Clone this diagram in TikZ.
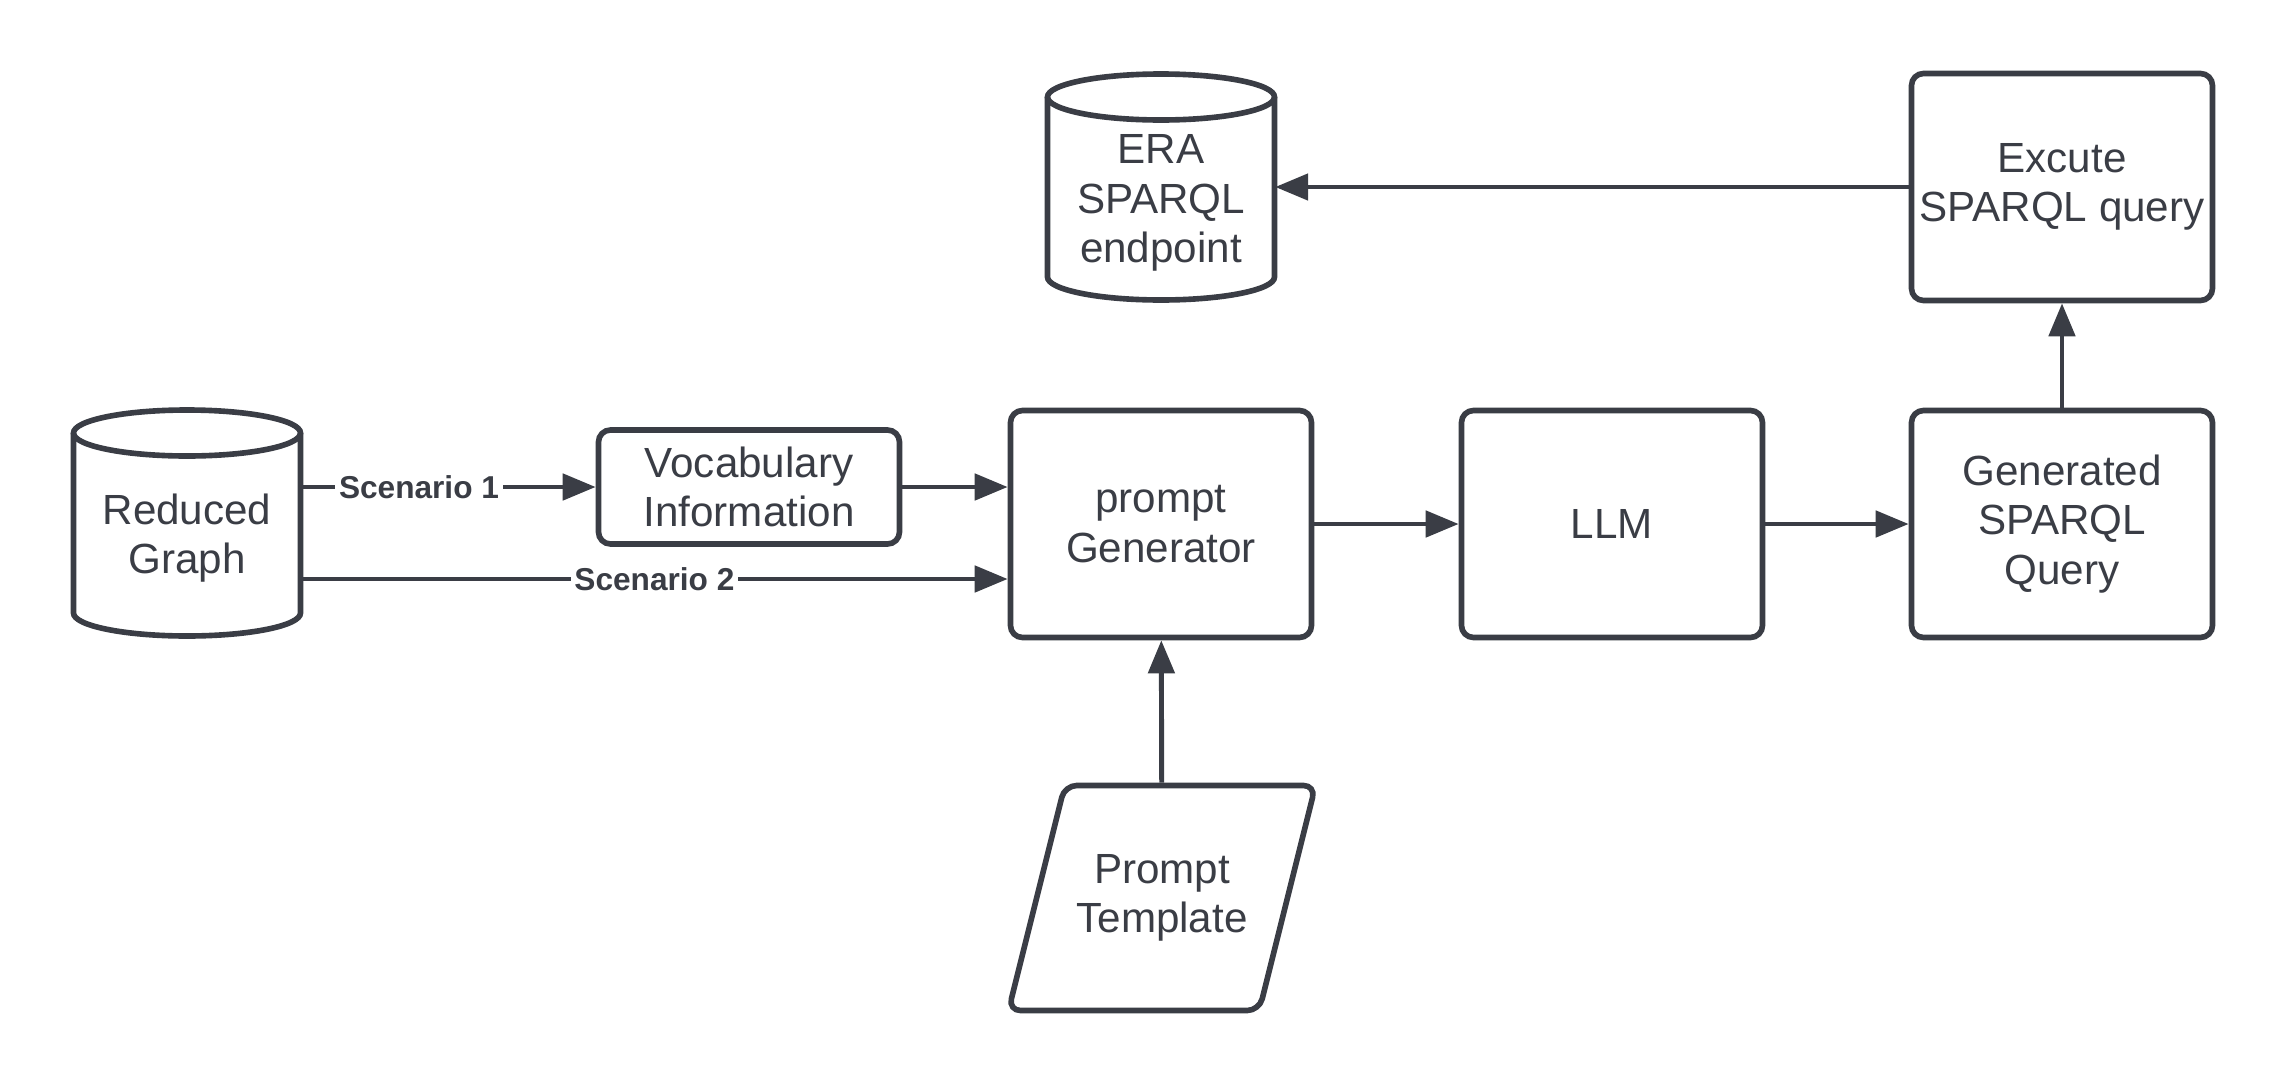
\documentclass[tikz,border=0pt]{standalone}
\usepackage{fontspec}
\setmainfont{Liberation Sans}
\usepackage{xcolor}
\definecolor{inkgray}{RGB}{58,61,69}
\usetikzlibrary{arrows.meta,shapes.geometric,positioning,calc}

\begin{document}
\begin{tikzpicture}[
    every node/.style={text=inkgray, align=center, font=\fontsize{12}{14}\selectfont},
    box/.style={draw=inkgray, line width=1.6pt, rounded corners=1.2mm, inner xsep=1pt, minimum width=3.01cm, minimum height=2.27cm},
    dbase/.style={inner sep=0pt, minimum width=2.27cm},
    dbline/.style={draw=inkgray, line width=1.6pt},
    slanted/.style={draw=inkgray, line width=1.6pt, trapezium, trapezium left angle=63, trapezium right angle=117, trapezium stretches=true, rounded corners=1.2mm, minimum width=2.96cm, minimum height=2.25cm},
    flow/.style={draw=inkgray, line width=1.4pt, -{Triangle[length=3.3mm,width=2.6mm]}},
    scen/.style={fill=white, inner sep=1pt, font=\bfseries\fontsize{9}{10}\selectfont}
]
    \useasboundingbox (0,0) rectangle (22.88,-10.88);

    % data stores (text sits a little below the drum's middle)
    \node[dbase] (graph) at (1.87,-5.38) {Reduced\\Graph};
    \node[dbase] (era) at (11.61,-2.03) {ERA\\SPARQL\\endpoint};
    \foreach \dx/\dy in {1.87/-5.23, 11.61/-1.87} {
        \draw[dbline, shift={(\dx,\dy)}] (0,0.9) ellipse [x radius=1.135, y radius=0.23];
        \draw[dbline, shift={(\dx,\dy)}] (-1.135,0.9) -- (-1.135,-0.9)
            arc[start angle=180, end angle=360, x radius=1.135, y radius=0.23]
            -- (1.135,0.9);
    }

    % main row of boxes
    \foreach \name/\x/\txt in {gen/11.61/prompt\\Generator, llm/16.12/LLM, query/20.62/Generated\\SPARQL\\Query} {
        \node[box] (\name) at (\x,-5.24) {\txt};
    }
    \node[box] (exec) at (20.62,-1.87) {Excute\\SPARQL query};
    \node[box, minimum height=1.14cm] (vocab) at (7.49,-4.87) {Vocabulary\\Information};
    \node[slanted] (template) at (11.62,-8.98) {Prompt\\Template};

    % second input of the generator
    \coordinate (genin) at ([yshift=-5.5mm]gen.west);

    % connectors
    \draw[flow] (graph.east |- vocab.west) -- node[scen, pos=0.4] {Scenario 1} (vocab.west);
    \draw[flow] (vocab.east) -- (gen.west |- vocab.east);
    \draw[flow] (graph.east |- genin) -- node[scen] {Scenario 2} (genin);
    \draw[flow] (gen) -- (llm);
    \draw[flow] (llm) -- (query);
    \draw[flow] (query) -- (exec);
    \draw[flow] (exec.west) -- (era.east |- exec.west);
    \draw[flow] (template) -- (gen);
\end{tikzpicture}
\end{document}
